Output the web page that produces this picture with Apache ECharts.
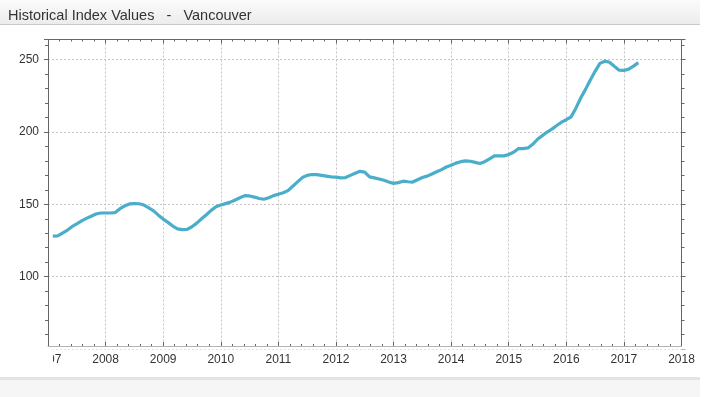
<!DOCTYPE html>
<html><head><meta charset="utf-8">
<script src="https://cdn.jsdelivr.net/npm/echarts@6/dist/echarts.min.js"></script>
<style>html,body{margin:0;padding:0;background:#fff;}#c{width:710px;height:397px;}</style>
</head><body><div id="c"></div>
<script>
const titleText = 'Historical Index Values   -   Vancouver';
const months = [
 '2007-02','2007-03','2007-04','2007-05','2007-06','2007-07','2007-08','2007-09','2007-10','2007-11','2007-12',
 '2008-01','2008-02','2008-03','2008-04','2008-05','2008-06','2008-07','2008-08','2008-09','2008-10','2008-11','2008-12',
 '2009-01','2009-02','2009-03','2009-04','2009-05','2009-06','2009-07','2009-08','2009-09','2009-10','2009-11','2009-12',
 '2010-01','2010-02','2010-03','2010-04','2010-05','2010-06','2010-07','2010-08','2010-09','2010-10','2010-11','2010-12',
 '2011-01','2011-02','2011-03','2011-04','2011-05','2011-06','2011-07','2011-08','2011-09','2011-10','2011-11','2011-12',
 '2012-01','2012-02','2012-03','2012-04','2012-05','2012-06','2012-07','2012-08','2012-09','2012-10','2012-11','2012-12',
 '2013-01','2013-02','2013-03','2013-04','2013-05','2013-06','2013-07','2013-08','2013-09','2013-10','2013-11','2013-12',
 '2014-01','2014-02','2014-03','2014-04','2014-05','2014-06','2014-07','2014-08','2014-09','2014-10','2014-11','2014-12',
 '2015-01','2015-02','2015-03','2015-04','2015-05','2015-06','2015-07','2015-08','2015-09','2015-10','2015-11','2015-12',
 '2016-01','2016-02','2016-03','2016-04','2016-05','2016-06','2016-07','2016-08','2016-09','2016-10','2016-11','2016-12',
 '2017-01','2017-02','2017-03','2017-04'
];
const indexValues = [
 128, 128.2, 130, 132, 134.5, 136.5, 138.5, 140.3, 141.8, 143.3, 144,
 144, 144, 144.3, 147, 149, 150.3, 150.5, 150.4, 149.5, 147.5, 145.5, 142.5,
 139.8, 137.5, 135, 133, 132.5, 132.7, 134.5, 137, 140, 142.8, 145.8, 148.3,
 149.5, 150.5, 151.5, 153, 154.5, 156, 155.8, 155, 154, 153.5, 154.5, 156,
 157, 158, 159.5, 162.5, 165.5, 168.5, 170, 170.6, 170.5, 170, 169.5, 169,
 168.8, 168.3, 168.5, 170, 171.5, 172.8, 172.3, 169, 168.3, 167.5, 166.6, 165.5,
 164.5, 165, 166, 165.6, 165.4, 167, 168.5, 169.5, 171, 172.5, 174, 175.8,
 177, 178.5, 179.5, 180, 179.8, 179, 178.2, 179.5, 181.5, 183.5, 183.5, 183.5,
 184.5, 186, 188.5, 188.5, 189, 191.5, 195, 197.5, 200, 202, 204.5, 206.8,
 208.5, 210.5, 216.5, 223.5, 229.5, 236, 242, 247.5, 249, 248.3, 245.5, 242.8,
 242.6, 243.5, 245.6, 248
];
const xRange = [2007, 2018];
const yRange = [50, 264];

function monthToYear(s){ const p = s.split('-'); return +p[0] + (+p[1]-1)/12; }
const seriesData = months.map((m,i)=>[monthToYear(m), indexValues[i]]);

const axisColor = '#666';
const gridLine = {show:true, lineStyle:{color:'#c4c4c4', type:[2,2], width:1}};
const labelStyle = {color:'#333', fontSize:12, fontFamily:'Liberation Sans, Arial, sans-serif'};

const chart = echarts.init(document.getElementById('c'), null, {renderer:'canvas'});
chart.setOption({
  animation:false,
  backgroundColor:'#fff',
  title:{text:titleText, left:3, top:3, textStyle:{color:'#333', fontSize:14.5, fontWeight:'normal', fontFamily:'Liberation Sans, Arial, sans-serif'}},
  graphic:[
    {type:'rect', z:-10, shape:{x:0,y:0,width:700,height:24}, style:{fill:new echarts.graphic.LinearGradient(0,0,0,1,[{offset:0,color:'#fbfbfb'},{offset:1,color:'#ececec'}])}},
    {type:'rect', z:-10, shape:{x:0,y:24,width:700,height:1}, style:{fill:'#c9c9c9'}},
    {type:'rect', z:-10, shape:{x:0,y:377,width:700,height:3}, style:{fill:'#e4e4e4'}},
    {type:'rect', z:-10, shape:{x:0,y:380,width:700,height:17}, style:{fill:'#f6f6f6'}},
    {type:'rect', z:100, shape:{x:0,y:349,width:53,height:20}, style:{fill:'#fff'}},
    {type:'rect', z:100, shape:{x:40,y:346.6,width:650,height:3}, style:{fill:'#fff'}}
  ],
  grid:{left:48, right:28.5, top:39.5, bottom:48.1, containLabel:false},
  xAxis:[
    {type:'value', min:xRange[0], max:xRange[1], interval:1, position:'bottom', offset:-2.9,
     axisLine:{show:true, lineStyle:{color:axisColor}},
     axisTick:{show:true, inside:true, length:4, lineStyle:{color:axisColor}},
     minorTick:{show:true, splitNumber:5, length:2, lineStyle:{color:axisColor}},
     axisLabel:{...labelStyle, margin:8, formatter:v=>String(Math.round(v)), showMinLabel:true, showMaxLabel:true},
     splitLine:gridLine},
    {type:'value', min:xRange[0], max:xRange[1], interval:1, position:'top',
     axisLine:{show:true, lineStyle:{color:axisColor}},
     axisTick:{show:true, inside:true, length:4, lineStyle:{color:axisColor}},
     minorTick:{show:true, splitNumber:5, length:2, lineStyle:{color:axisColor}},
     axisLabel:{show:false}, splitLine:{show:false}}
  ],
  yAxis:[
    {type:'value', min:yRange[0], max:yRange[1], interval:50, position:'left',
     axisLine:{show:true, lineStyle:{color:axisColor}},
     axisTick:{show:true, inside:false, length:4, lineStyle:{color:axisColor}},
     minorTick:{show:true, splitNumber:5, length:3, lineStyle:{color:axisColor}},
     axisLabel:{...labelStyle, margin:9, showMinLabel:false, showMaxLabel:false},
     splitLine:gridLine},
    {type:'value', min:yRange[0], max:yRange[1], interval:50, position:'right',
     axisLine:{show:true, lineStyle:{color:axisColor}},
     axisTick:{show:true, inside:false, length:4, lineStyle:{color:axisColor}},
     minorTick:{show:true, splitNumber:5, length:3, lineStyle:{color:axisColor}},
     axisLabel:{show:false}, splitLine:{show:false}}
  ],
  series:[{
    type:'line', xAxisIndex:0, yAxisIndex:0, data:seriesData, showSymbol:false, smooth:false,
    lineStyle:{color:'#4aaecb', width:3.2}, itemStyle:{color:'#4aaecb'}
  }]
});
</script></body></html>
